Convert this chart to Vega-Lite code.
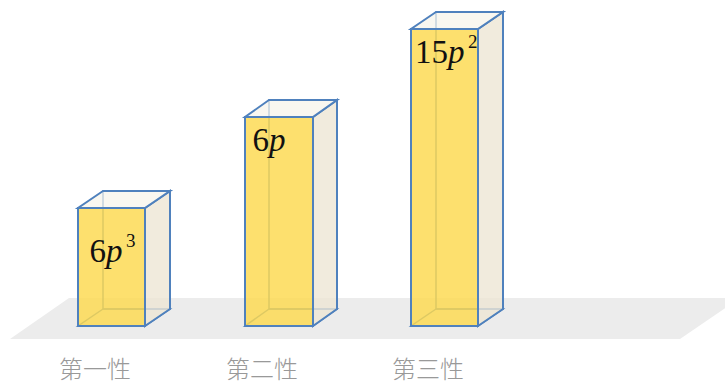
{
  "$schema": "https://vega.github.io/schema/vega-lite/v6.json",
  "width": 725,
  "height": 385,
  "padding": 0,
  "autosize": {"type": "fit", "contains": "padding"},
  "background": "white",
  "view": {"stroke": null},
  "config": {"axis": {"disable": true}},
  "datasets": {
    "bars": [
      {"cat": "第一性", "coef": "6", "exp": "3", "px": 106, "x0": 78, "x1": 145, "base": 0, "h": 118, "bx0": 103, "bx1": 170, "by0": 17, "by1": 135, "ly": 64},
      {"cat": "第二性", "coef": "6", "exp": "", "px": 269, "x0": 245, "x1": 313, "base": 0, "h": 209, "bx0": 269, "bx1": 337, "by0": 17, "by1": 226, "ly": 175},
      {"cat": "第三性", "coef": "15", "exp": "2", "px": 448, "x0": 411, "x1": 478, "base": 0, "h": 297, "bx0": 436, "bx1": 503, "by0": 17, "by1": 314, "ly": 263}
    ],
    "faces": [
      {"face": "floor", "bar": "floor", "y": -13, "x": 10, "x2": 680},
      {"face": "floor", "bar": "floor", "y": 28, "x": 69, "x2": 740},
      {"face": "side", "bar": "第一性", "x": 145, "y": 0, "y2": 118},
      {"face": "side", "bar": "第一性", "x": 170, "y": 17, "y2": 135},
      {"face": "side", "bar": "第二性", "x": 313, "y": 0, "y2": 209},
      {"face": "side", "bar": "第二性", "x": 337, "y": 17, "y2": 226},
      {"face": "side", "bar": "第三性", "x": 478, "y": 0, "y2": 297},
      {"face": "side", "bar": "第三性", "x": 503, "y": 17, "y2": 314},
      {"face": "top", "bar": "第一性", "y": 118, "x": 78, "x2": 145},
      {"face": "top", "bar": "第一性", "y": 135, "x": 103, "x2": 170},
      {"face": "top", "bar": "第二性", "y": 209, "x": 245, "x2": 313},
      {"face": "top", "bar": "第二性", "y": 226, "x": 269, "x2": 337},
      {"face": "top", "bar": "第三性", "y": 297, "x": 411, "x2": 478},
      {"face": "top", "bar": "第三性", "y": 314, "x": 436, "x2": 503},
      {"face": "bottom", "bar": "第一性", "y": 0, "x": 78, "x2": 145},
      {"face": "bottom", "bar": "第一性", "y": 17, "x": 103, "x2": 170},
      {"face": "bottom", "bar": "第二性", "y": 0, "x": 245, "x2": 313},
      {"face": "bottom", "bar": "第二性", "y": 17, "x": 269, "x2": 337},
      {"face": "bottom", "bar": "第三性", "y": 0, "x": 411, "x2": 478},
      {"face": "bottom", "bar": "第三性", "y": 17, "x": 436, "x2": 503}
    ]
  },
  "layer": [
    {
      "data": {"name": "faces"},
      "transform": [{"filter": "datum.face === 'floor'"}],
      "mark": {"type": "area", "orient": "horizontal", "color": "#ececec", "clip": true},
      "encoding": {
        "y": {"field": "y", "type": "quantitative", "scale": {"domain": [-59, 326], "nice": false, "zero": false}},
        "x": {"field": "x", "type": "quantitative", "scale": {"domain": [0, 725], "nice": false, "zero": false}},
        "x2": {"field": "x2"},
        "detail": {"field": "bar", "type": "nominal"}
      }
    },
    {
      "data": {"name": "bars"},
      "mark": {"type": "rect", "fill": "white", "fillOpacity": 0, "stroke": "#4f81bd", "strokeWidth": 1.5},
      "encoding": {
        "x": {"field": "bx0", "type": "quantitative"},
        "x2": {"field": "bx1"},
        "y": {"field": "by0", "type": "quantitative"},
        "y2": {"field": "by1"}
      }
    },
    {
      "data": {"name": "faces"},
      "transform": [{"filter": "datum.face === 'bottom'"}],
      "mark": {"type": "area", "orient": "horizontal", "fill": "white", "fillOpacity": 0, "stroke": "#4f81bd", "strokeWidth": 1.5},
      "encoding": {
        "y": {"field": "y", "type": "quantitative"},
        "x": {"field": "x", "type": "quantitative"},
        "x2": {"field": "x2"},
        "detail": {"field": "bar", "type": "nominal"}
      }
    },
    {
      "data": {"name": "faces"},
      "transform": [{"filter": "datum.face === 'side'"}],
      "mark": {"type": "area", "orient": "vertical", "fill": "#ede6d4", "fillOpacity": 0.8, "stroke": "#4f81bd", "strokeWidth": 2},
      "encoding": {
        "x": {"field": "x", "type": "quantitative"},
        "y": {"field": "y", "type": "quantitative"},
        "y2": {"field": "y2"},
        "detail": {"field": "bar", "type": "nominal"}
      }
    },
    {
      "data": {"name": "faces"},
      "transform": [{"filter": "datum.face === 'top'"}],
      "mark": {"type": "area", "orient": "horizontal", "fill": "#f6f3ea", "fillOpacity": 0.7, "stroke": "#4f81bd", "strokeWidth": 2},
      "encoding": {
        "y": {"field": "y", "type": "quantitative"},
        "x": {"field": "x", "type": "quantitative"},
        "x2": {"field": "x2"},
        "detail": {"field": "bar", "type": "nominal"}
      }
    },
    {
      "data": {"name": "bars"},
      "mark": {"type": "rect", "fill": "#fdd94e", "fillOpacity": 0.82, "stroke": "#4f81bd", "strokeWidth": 2},
      "encoding": {
        "x": {"field": "x0", "type": "quantitative"},
        "x2": {"field": "x1"},
        "y": {"field": "base", "type": "quantitative"},
        "y2": {"field": "h"}
      }
    },
    {
      "data": {"name": "bars"},
      "mark": {"type": "text", "align": "right", "baseline": "alphabetic", "font": "Liberation Serif", "fontSize": 33, "color": "#111111"},
      "encoding": {
        "x": {"field": "px", "type": "quantitative"},
        "y": {"field": "ly", "type": "quantitative"},
        "text": {"field": "coef", "type": "nominal"}
      }
    },
    {
      "data": {"name": "bars"},
      "mark": {"type": "text", "align": "left", "baseline": "alphabetic", "font": "Liberation Serif", "fontStyle": "italic", "fontSize": 33, "color": "#111111"},
      "encoding": {
        "x": {"field": "px", "type": "quantitative"},
        "y": {"field": "ly", "type": "quantitative"},
        "text": {"value": "p"}
      }
    },
    {
      "data": {"name": "bars"},
      "mark": {"type": "text", "align": "left", "baseline": "alphabetic", "dx": 20, "dy": -15, "font": "Liberation Serif", "fontSize": 19, "color": "#111111"},
      "encoding": {
        "x": {"field": "px", "type": "quantitative"},
        "y": {"field": "ly", "type": "quantitative"},
        "text": {"field": "exp", "type": "nominal"}
      }
    },
    {
      "data": {"name": "bars"},
      "mark": {"type": "text", "align": "left", "baseline": "middle", "dx": -19, "font": "Noto Sans CJK SC", "fontWeight": 300, "fontSize": 24, "color": "#999999"},
      "encoding": {
        "x": {"field": "x0", "type": "quantitative"},
        "y": {"datum": -45, "type": "quantitative"},
        "text": {"field": "cat", "type": "nominal"}
      }
    }
  ]
}
